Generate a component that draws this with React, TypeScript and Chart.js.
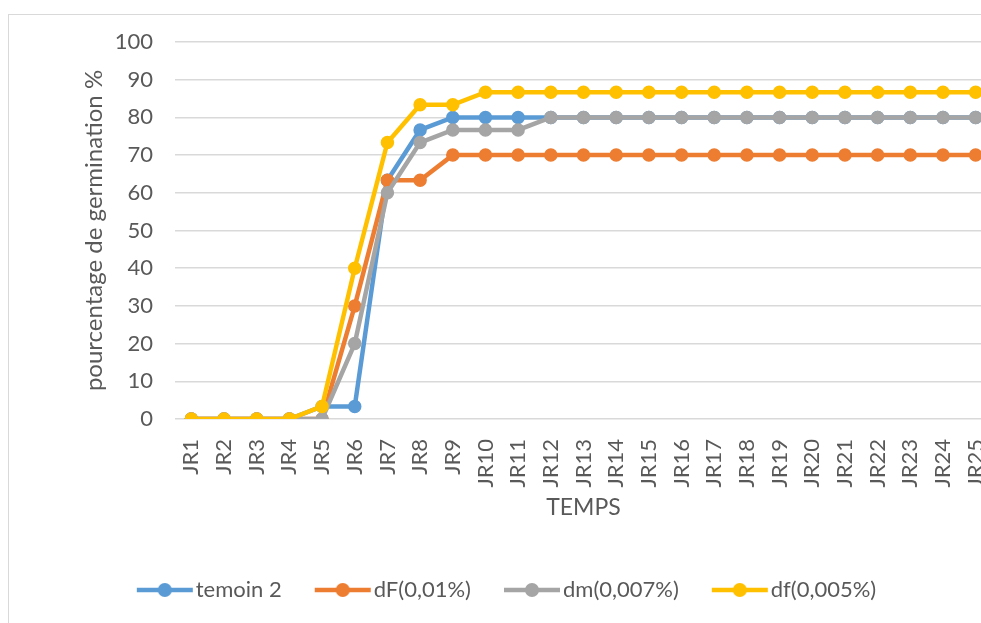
import React, { useEffect, useRef } from "react";
import { Chart, registerables } from "chart.js";

Chart.register(...registerables);

const categories = [
  "JR1", "JR2", "JR3", "JR4", "JR5", "JR6", "JR7", "JR8", "JR9", "JR10",
  "JR11", "JR12", "JR13", "JR14", "JR15", "JR16", "JR17", "JR18", "JR19", "JR20",
  "JR21", "JR22", "JR23", "JR24", "JR25",
];

const temoin2 = [0, 0, 0, 0, 3.33, 3.33, 63.33, 76.67, 80, 80, 80, 80, 80, 80, 80, 80, 80, 80, 80, 80, 80, 80, 80, 80, 80];
const dF001 = [0, 0, 0, 0, 0, 30, 63.33, 63.33, 70, 70, 70, 70, 70, 70, 70, 70, 70, 70, 70, 70, 70, 70, 70, 70, 70];
const dm0007 = [0, 0, 0, 0, 0, 20, 60, 73.33, 76.67, 76.67, 76.67, 80, 80, 80, 80, 80, 80, 80, 80, 80, 80, 80, 80, 80, 80];
const df0005 = [0, 0, 0, 0, 3.33, 40, 73.33, 83.33, 83.33, 86.67, 86.67, 86.67, 86.67, 86.67, 86.67, 86.67, 86.67, 86.67, 86.67, 86.67, 86.67, 86.67, 86.67, 86.67, 86.67];

const seriesNames = ["temoin 2", "dF(0,01%)", "dm(0,007%)", "df(0,005%)"];
const seriesColors = ["#5B9BD5", "#ED7D31", "#A5A5A5", "#FFC000"];
const seriesValues = [temoin2, dF001, dm0007, df0005];

const yTicks = [0, 10, 20, 30, 40, 50, 60, 70, 80, 90, 100];

const FONT = "Lato, 'Open Sans', sans-serif";
const TEXT = "#595959";

function makeMarker(color: string): HTMLCanvasElement {
  const c = document.createElement("canvas");
  c.width = 64;
  c.height = 16;
  const ctx = c.getContext("2d")!;
  ctx.strokeStyle = color;
  ctx.lineWidth = 4.5;
  ctx.lineCap = "butt";
  ctx.beginPath();
  ctx.moveTo(4, 8);
  ctx.lineTo(60, 8);
  ctx.stroke();
  ctx.fillStyle = color;
  ctx.beginPath();
  ctx.arc(32, 8, 7, 0, Math.PI * 2);
  ctx.fill();
  return c;
}

const legendShift = {
  id: "legendShift",
  afterLayout(chart: any) {
    if (chart.legend) {
      chart.legend.left += 10;
      chart.legend.right += 10;
    }
  },
};

export default function App() {
  const ref = useRef<HTMLCanvasElement | null>(null);

  useEffect(() => {
    if (!ref.current) return;
    const markers = seriesColors.map(makeMarker);
    const chart = new Chart(ref.current, {
      type: "line",
      data: {
        labels: categories,
        datasets: seriesValues.map((vals, i) => ({
          label: seriesNames[i],
          data: vals,
          borderColor: seriesColors[i],
          backgroundColor: seriesColors[i],
          pointBackgroundColor: seriesColors[i],
          pointBorderColor: seriesColors[i],
          borderWidth: 4.5,
          pointRadius: 6,
          pointBorderWidth: 1.5,
          pointHoverRadius: 6,
          tension: 0,
          fill: false,
          order: seriesNames.length - i,
        })),
      },
      options: {
        responsive: false,
        animation: false,
        layout: { padding: { left: 0, top: 27, right: 17, bottom: 12 } },
        plugins: {
          tooltip: { enabled: false },
          legend: {
            position: "bottom",
            labels: {
              usePointStyle: true,
              pointStyleWidth: 40,
              padding: 41,
              color: TEXT,
              font: { family: FONT, size: 22 },
              generateLabels: () =>
                seriesNames.map((name, i) => ({
                  text: name,
                  pointStyle: markers[i] as any,
                  fillStyle: seriesColors[i],
                  strokeStyle: seriesColors[i],
                  lineWidth: 0,
                  hidden: false,
                  datasetIndex: i,
                  fontColor: TEXT,
                })),
            },
          },
        },
        scales: {
          x: {
            offset: true,
            grid: { display: false },
            border: { display: false },
            afterFit: (scale: any) => {
              scale.height = 119;
              scale.paddingLeft = 0;
              scale.paddingRight = 0;
            },
            ticks: {
              autoSkip: false,
              minRotation: 90,
              maxRotation: 90,
              padding: 12,
              color: TEXT,
              font: { family: FONT, size: 22 },
            },
            title: {
              display: true,
              text: "TEMPS",
              color: TEXT,
              font: { family: FONT, size: 23 },
              padding: { top: 19, bottom: 17 },
            },
          },
          y: {
            min: 0,
            max: 100,
            afterBuildTicks: (scale: any) => {
              scale.ticks = yTicks.map((v) => ({ value: v }));
            },
            afterFit: (scale: any) => {
              scale.width = 166;
              scale.paddingTop = 0;
              scale.paddingBottom = 0;
            },
            grid: { color: "#D9D9D9", lineWidth: 1.5, drawTicks: false },
            border: { display: false },
            ticks: {
              padding: 22,
              color: TEXT,
              font: { family: FONT, size: 22 },
            },
            title: {
              display: true,
              text: "pourcentage de germination %",
              color: TEXT,
              font: { family: FONT, size: 24 },
              padding: { top: 71, bottom: 10 },
            },
          },
        },
      },
      plugins: [legendShift],
    });
    return () => chart.destroy();
  }, []);

  return (
    <div style={{ position: "fixed", left: 0, top: 0, width: 981, height: 623, overflow: "hidden", background: "#fff" }}>
      <div
        style={{
          position: "absolute",
          left: 8,
          top: 14,
          borderLeft: "1px solid #D9D9D9",
          borderTop: "1px solid #D9D9D9",
          width: 1000,
          height: 640,
        }}
      >
        <canvas ref={ref} width={1000} height={608} style={{ display: "block" }} />
      </div>
    </div>
  );
}
